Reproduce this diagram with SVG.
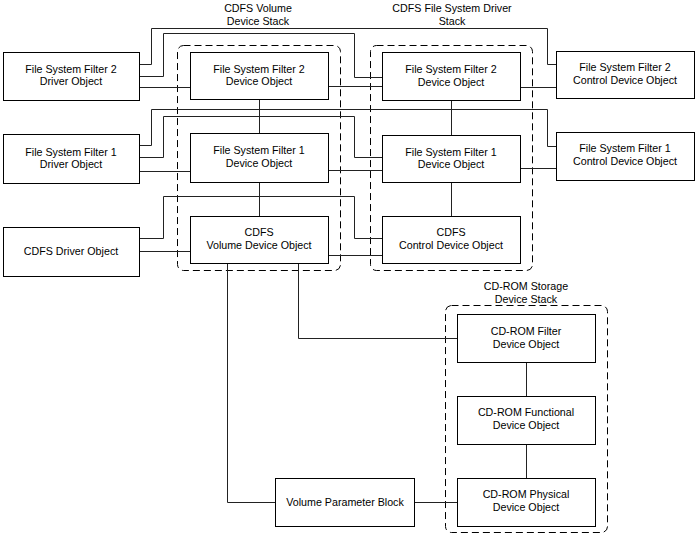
<svg xmlns="http://www.w3.org/2000/svg" width="695" height="534" viewBox="0 0 695 534">
<style>
.box{fill:#fff;stroke:#000;stroke-width:1}
.stack{fill:none;stroke:#000;stroke-width:1;stroke-dasharray:7 4}
.c{fill:none;stroke:#222;stroke-width:1}
text{font-family:"Liberation Sans",Arial,sans-serif;font-size:10.7px;fill:#000;text-anchor:middle}
</style>
<rect width="695" height="534" fill="#fff"/>
<g id="stacks">
<rect class="stack" x="177.5" y="45.5" width="163" height="225" rx="6"/>
<rect class="stack" x="370.5" y="45.5" width="162" height="225" rx="6"/>
<rect class="stack" x="445.5" y="305.5" width="162" height="227" rx="6"/>
<text x="258" y="12">CDFS Volume</text><text x="258" y="25">Device Stack</text>
<text x="452" y="12">CDFS File System Driver</text><text x="452" y="25">Stack</text>
<text x="526" y="290">CD-ROM Storage</text><text x="526" y="303">Device Stack</text>
</g>
<g id="connectors">
<polyline class="c" points="139,64.5 151.5,64.5 151.5,28.5 547.5,28.5 547.5,64.5 556,64.5"/>
<polyline class="c" points="139,76.5 163.5,76.5 163.5,33.5 354.5,33.5 354.5,77.5 382,77.5"/>
<line class="c" x1="139" y1="87.5" x2="190" y2="87.5"/>
<line class="c" x1="328" y1="86.5" x2="382" y2="86.5"/>
<line class="c" x1="520" y1="87.5" x2="556" y2="87.5"/>
<polyline class="c" points="139,145.5 151.5,145.5 151.5,109.5 547.5,109.5 547.5,146.5 556,146.5"/>
<polyline class="c" points="139,157.5 163.5,157.5 163.5,116.5 354.5,116.5 354.5,157.5 382,157.5"/>
<line class="c" x1="139" y1="171.5" x2="190" y2="171.5"/>
<line class="c" x1="328" y1="170.5" x2="382" y2="170.5"/>
<line class="c" x1="520" y1="168.5" x2="556" y2="168.5"/>
<polyline class="c" points="139,238.5 163.5,238.5 163.5,196.5 354.5,196.5 354.5,238.5 382,238.5"/>
<line class="c" x1="139" y1="251.5" x2="190" y2="251.5"/>
<line class="c" x1="328" y1="255.5" x2="382" y2="255.5"/>
<line class="c" x1="259.5" y1="99" x2="259.5" y2="133"/>
<line class="c" x1="259.5" y1="182" x2="259.5" y2="216"/>
<line class="c" x1="451.5" y1="100" x2="451.5" y2="135"/>
<line class="c" x1="451.5" y1="182" x2="451.5" y2="216"/>
<polyline class="c" points="227.5,263 227.5,502.5 275,502.5"/>
<polyline class="c" points="298.5,263 298.5,338.5 457,338.5"/>
<line class="c" x1="414" y1="502.5" x2="457" y2="502.5"/>
<line class="c" x1="526.5" y1="362" x2="526.5" y2="396"/>
<line class="c" x1="526.5" y1="444" x2="526.5" y2="478"/>
</g>
<g id="fsf2-driver"><rect class="box" x="3.5" y="52.5" width="136" height="48"/><text x="71" y="73">File System Filter 2</text><text x="71" y="85">Driver Object</text></g>
<g id="fsf1-driver"><rect class="box" x="3.5" y="134.5" width="136" height="49"/><text x="71" y="156">File System Filter 1</text><text x="71" y="168">Driver Object</text></g>
<g id="cdfs-driver"><rect class="box" x="3.5" y="227.5" width="136" height="49"/><text x="71" y="255">CDFS Driver Object</text></g>
<g id="vol-fsf2"><rect class="box" x="190.5" y="52.5" width="138" height="47"/><text x="259" y="73">File System Filter 2</text><text x="259" y="85">Device Object</text></g>
<g id="vol-fsf1"><rect class="box" x="190.5" y="133.5" width="138" height="49"/><text x="259" y="154">File System Filter 1</text><text x="259" y="167">Device Object</text></g>
<g id="vol-cdfs"><rect class="box" x="190.5" y="216.5" width="138" height="47"/><text x="259" y="236">CDFS</text><text x="259" y="249">Volume Device Object</text></g>
<g id="fs-fsf2"><rect class="box" x="382.5" y="52.5" width="138" height="48"/><text x="451" y="73">File System Filter 2</text><text x="451" y="86">Device Object</text></g>
<g id="fs-fsf1"><rect class="box" x="382.5" y="135.5" width="138" height="47"/><text x="451" y="156">File System Filter 1</text><text x="451" y="168">Device Object</text></g>
<g id="fs-cdfs"><rect class="box" x="382.5" y="216.5" width="138" height="47"/><text x="451" y="236">CDFS</text><text x="451" y="249">Control Device Object</text></g>
<g id="fsf2-control"><rect class="box" x="556.5" y="51.5" width="138" height="47"/><text x="625" y="71">File System Filter 2</text><text x="625" y="84">Control Device Object</text></g>
<g id="fsf1-control"><rect class="box" x="556.5" y="132.5" width="138" height="48"/><text x="625" y="152">File System Filter 1</text><text x="625" y="165">Control Device Object</text></g>
<g id="vpb"><rect class="box" x="275.5" y="478.5" width="139" height="48"/><text x="345" y="506">Volume Parameter Block</text></g>
<g id="cdrom-filter"><rect class="box" x="457.5" y="314.5" width="138" height="48"/><text x="526" y="335">CD-ROM Filter</text><text x="526" y="348">Device Object</text></g>
<g id="cdrom-functional"><rect class="box" x="457.5" y="396.5" width="138" height="48"/><text x="526" y="416">CD-ROM Functional</text><text x="526" y="429">Device Object</text></g>
<g id="cdrom-physical"><rect class="box" x="457.5" y="478.5" width="138" height="48"/><text x="526" y="498">CD-ROM Physical</text><text x="526" y="511">Device Object</text></g>
</svg>
